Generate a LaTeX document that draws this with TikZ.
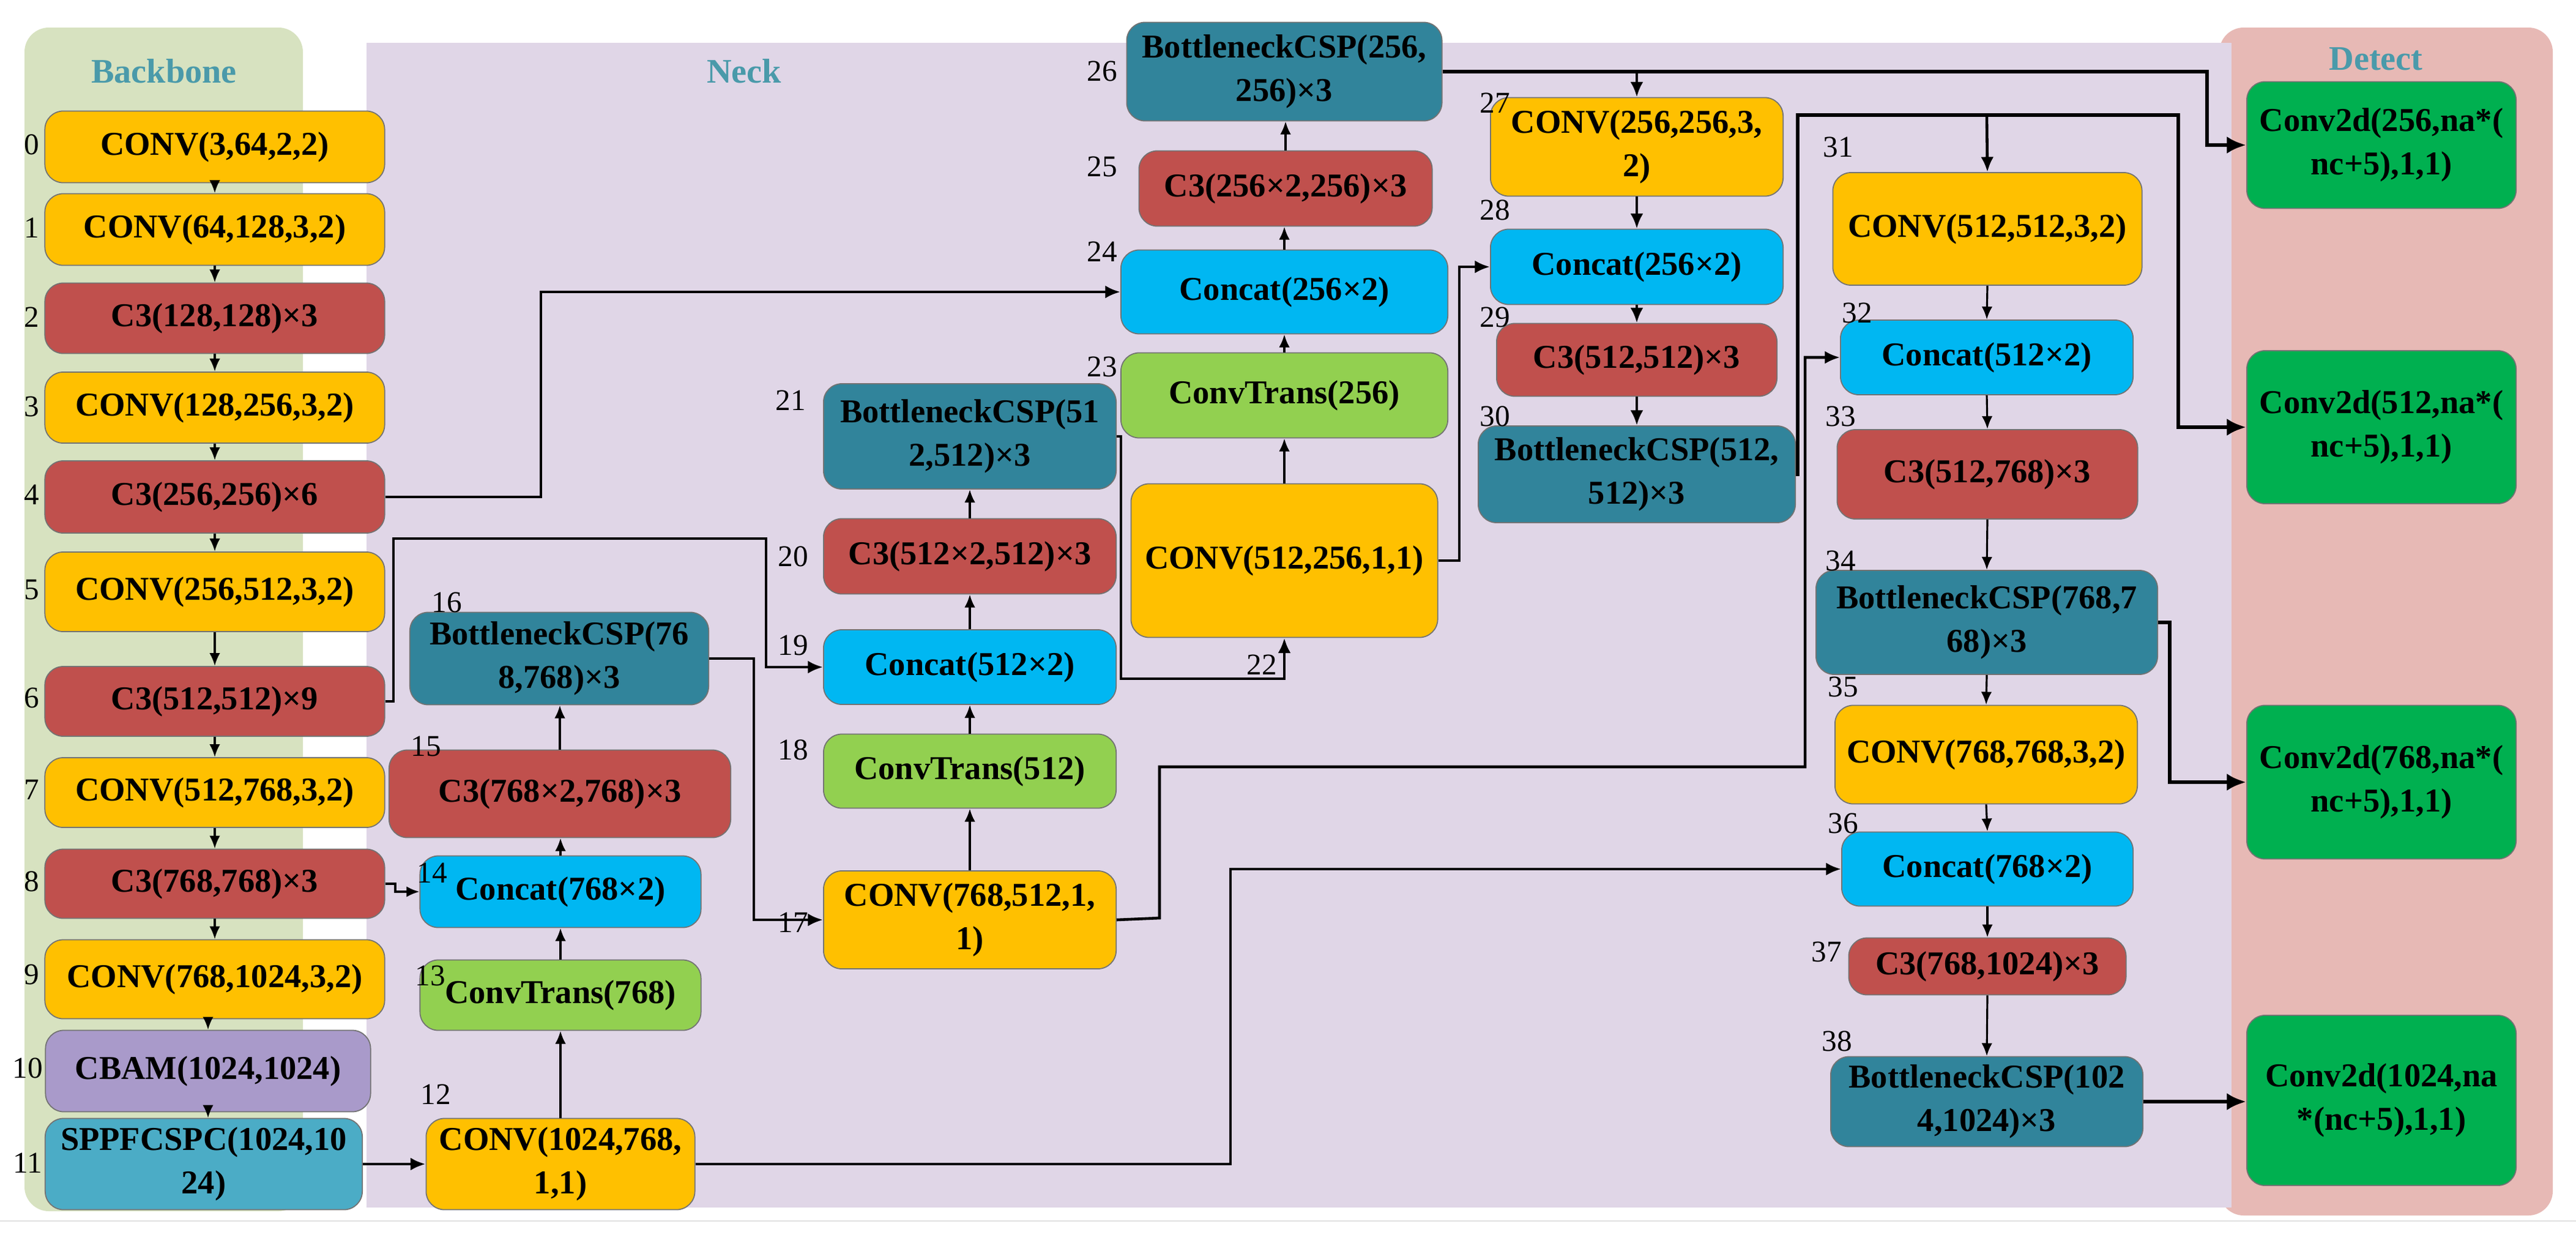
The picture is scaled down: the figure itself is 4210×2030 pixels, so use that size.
\documentclass[tikz,border=0pt]{standalone}
\usepackage{fontspec}
\setmainfont{Liberation Serif}
\usetikzlibrary{arrows.meta}
\definecolor{cyel}{HTML}{FFC000}
\definecolor{cred}{HTML}{C0504D}
\definecolor{ccya}{HTML}{00B7F2}
\definecolor{cgrn}{HTML}{92D050}
\definecolor{ctea}{HTML}{31849B}
\definecolor{cpur}{HTML}{A99ACA}
\definecolor{cspp}{HTML}{4BACC6}
\definecolor{cdet}{HTML}{00B050}
\definecolor{bgbb}{HTML}{D7E2C0}
\definecolor{bgnk}{HTML}{E0D6E7}
\definecolor{bgdt}{HTML}{E7B9B5}
\definecolor{ttl}{HTML}{4A9AAA}
\begin{document}
\begin{tikzpicture}[x=0.01cm,y=-0.01cm,
 box/.style={rounded corners=0.3cm,draw=black!55,line width=0.5pt,align=center,inner sep=0pt,
   font=\fontsize{15.5}{20}\selectfont\bfseries},
 yel/.style={box,fill=cyel},red/.style={box,fill=cred},cya/.style={box,fill=ccya},
 grn/.style={box,fill=cgrn},tea/.style={box,fill=ctea},pur/.style={box,fill=cpur},
 spp/.style={box,fill=cspp},det/.style={box,fill=cdet},
 idx/.style={font=\fontsize{14}{14}\selectfont,inner sep=0pt},
 ttlf/.style={text=ttl,font=\fontsize{16}{16}\selectfont\bfseries},
 ch/.style={line width=0.9pt,-{Latex[length=6pt,width=5pt]}},
 cn/.style={line width=1.3pt,-{Latex[length=7pt,width=6pt]}},
 ct/.style={line width=1.8pt,-{Latex[length=9pt,width=8pt]}},
 cnl/.style={line width=1.3pt}]
\useasboundingbox (0,0) rectangle (4210,2030);
\fill[white] (0,0) rectangle (4210,2030);
% backgrounds
\fill[bgdt,rounded corners=0.4cm] (3627,45) rectangle (4172,1986);
\fill[bgnk] (599,70) rectangle (3647,1973);
\fill[bgbb,rounded corners=0.4cm] (40,45) rectangle (495,1979);
\draw[black!12,line width=0.8pt] (0,1995) -- (4210,1995);
\node[ttlf] (tb) at (268,116) {Backbone};
\node[ttlf] (tn) at (1216,116) {Neck};
\node[ttlf] (td) at (3883,96) {Detect};
% backbone
\node[yel,minimum width=5.55cm,minimum height=1.17cm] (n0) at (351,240) {CONV(3,64,2,2)};
\node[yel,minimum width=5.55cm,minimum height=1.17cm] (n1) at (351,375) {CONV(64,128,3,2)};
\node[red,minimum width=5.55cm,minimum height=1.15cm] (n2) at (351,520) {C3(128,128)×3};
\node[yel,minimum width=5.55cm,minimum height=1.16cm] (n3) at (351,666) {CONV(128,256,3,2)};
\node[red,minimum width=5.55cm,minimum height=1.18cm] (n4) at (351,812) {C3(256,256)×6};
\node[yel,minimum width=5.55cm,minimum height=1.30cm] (n5) at (351,967) {CONV(256,512,3,2)};
\node[red,minimum width=5.55cm,minimum height=1.14cm] (n6) at (351,1146) {C3(512,512)×9};
\node[yel,minimum width=5.55cm,minimum height=1.14cm] (n7) at (351,1295) {CONV(512,768,3,2)};
\node[red,minimum width=5.55cm,minimum height=1.13cm] (n8) at (351,1444) {C3(768,768)×3};
\node[yel,minimum width=5.55cm,minimum height=1.29cm] (n9) at (351,1600) {CONV(768,1024,3,2)};
\node[pur,minimum width=5.31cm,minimum height=1.33cm] (n10) at (340,1750) {CBAM(1024,1024)};
\node[spp,minimum width=5.18cm,minimum height=1.49cm] (n11) at (333,1902) {SPPFCSPC(1024,10\\24)};
% column A
\node[tea,minimum width=4.88cm,minimum height=1.51cm] (n16) at (914,1076) {BottleneckCSP(76\\8,768)×3};
\node[red,minimum width=5.58cm,minimum height=1.43cm] (n15) at (915,1297) {C3(768×2,768)×3};
\node[cya,minimum width=4.59cm,minimum height=1.17cm] (n14) at (916,1457) {Concat(768×2)};
\node[grn,minimum width=4.59cm,minimum height=1.15cm] (n13) at (916,1626) {ConvTrans(768)};
\node[yel,minimum width=4.39cm,minimum height=1.49cm] (n12) at (916,1902) {CONV(1024,768,\\1,1)};
% column B
\node[tea,minimum width=4.78cm,minimum height=1.72cm] (n21) at (1585,713) {BottleneckCSP(51\\2,512)×3};
\node[red,minimum width=4.78cm,minimum height=1.23cm] (n20) at (1585,909) {C3(512×2,512)×3};
\node[cya,minimum width=4.78cm,minimum height=1.22cm] (n19) at (1585,1090) {Concat(512×2)};
\node[grn,minimum width=4.78cm,minimum height=1.21cm] (n18) at (1585,1260) {ConvTrans(512)};
\node[yel,minimum width=4.78cm,minimum height=1.60cm] (n17) at (1585,1503) {CONV(768,512,1,\\1)};
% column C
\node[tea,minimum width=5.15cm,minimum height=1.61cm] (n26) at (2099,117) {BottleneckCSP(256,\\256)×3};
\node[red,minimum width=4.79cm,minimum height=1.23cm] (n25) at (2101,308) {C3(256×2,256)×3};
\node[cya,minimum width=5.34cm,minimum height=1.37cm] (n24) at (2099,477) {Concat(256×2)};
\node[grn,minimum width=5.34cm,minimum height=1.39cm] (n23) at (2099,646) {ConvTrans(256)};
\node[yel,minimum width=5.01cm,minimum height=2.51cm] (n22) at (2099,916) {CONV(512,256,1,1)};
% column D
\node[yel,minimum width=4.78cm,minimum height=1.61cm] (n27) at (2675,240) {CONV(256,256,3,\\2)};
\node[cya,minimum width=4.78cm,minimum height=1.23cm] (n28) at (2675,436) {Concat(256×2)};
\node[red,minimum width=4.58cm,minimum height=1.19cm] (n29) at (2675,588) {C3(512,512)×3};
\node[tea,minimum width=5.18cm,minimum height=1.58cm] (n30) at (2675,775) {BottleneckCSP(512,\\512)×3};
% column E
\node[yel,minimum width=5.05cm,minimum height=1.84cm] (n31) at (3248,374) {CONV(512,512,3,2)};
\node[cya,minimum width=4.78cm,minimum height=1.22cm] (n32) at (3247,584) {Concat(512×2)};
\node[red,minimum width=4.91cm,minimum height=1.46cm] (n33) at (3248,775) {C3(512,768)×3};
\node[tea,minimum width=5.58cm,minimum height=1.70cm] (n34) at (3247,1017) {BottleneckCSP(768,7\\68)×3};
\node[yel,minimum width=4.94cm,minimum height=1.61cm] (n35) at (3246,1233) {CONV(768,768,3,2)};
\node[cya,minimum width=4.76cm,minimum height=1.21cm] (n36) at (3248,1420) {Concat(768×2)};
\node[red,minimum width=4.53cm,minimum height=0.93cm] (n37) at (3248,1579) {C3(768,1024)×3};
\node[tea,minimum width=5.10cm,minimum height=1.47cm] (n38) at (3247,1800) {BottleneckCSP(102\\4,1024)×3};
% detect
\node[det,minimum width=4.40cm,minimum height=2.07cm] (d0) at (3892,237) {Conv2d(256,na*(\\nc+5),1,1)};
\node[det,minimum width=4.40cm,minimum height=2.50cm] (d1) at (3892,698) {Conv2d(512,na*(\\nc+5),1,1)};
\node[det,minimum width=4.40cm,minimum height=2.51cm] (d2) at (3892,1278) {Conv2d(768,na*(\\nc+5),1,1)};
\node[det,minimum width=4.40cm,minimum height=2.78cm] (d3) at (3892,1798) {Conv2d(1024,na\\*(nc+5),1,1)};
% index labels
\foreach \i/\yy in {0/236,1/372,2/518,3/664,4/808,5/964,6/1140,7/1290,8/1440,9/1592}
  \node[idx] (l\i) at (52,\yy) {\i};
\node[idx] (l10) at (45,1745) {10};
\node[idx] (l11) at (45,1900) {11};
\foreach \i/\xx/\yy in {16/730/984,15/696/1219,14/706/1426,13/703/1594,12/712/1788,
 21/1292/654,20/1296/909,19/1296/1054,18/1296/1225,17/1296/1507,
 26/1801/116,25/1801/272,24/1801/411,23/1801/599,22/2062/1086,
 27/2443/168,28/2443/343,29/2443/518,30/2443/680,
 31/3004/240,32/3035/511,33/3008/680,34/3008/916,35/3012/1122,36/3012/1345,37/2985/1555,38/3002/1701}
  \node[idx] (l\i) at (\xx,\yy) {\i};
% chains
\foreach \a/\b in {0/1,1/2,2/3,3/4,4/5,5/6,6/7,7/8,8/9}
  \draw[ch] (n\a.south) -- (n\b.north);
\draw[ch] (n10.north |- n9.south) -- (n10.north);
\draw[ch] (n10.south) -- (n10.south |- n11.north);
\foreach \a/\b in {12/13,13/14,14/15,15/16,17/18,18/19,19/20,20/21,22/23,23/24,24/25,25/26}
  \draw[ch] (n\a.north) -- (n\a.north |- n\b.south);
\foreach \a/\b in {27/28,28/29,29/30}
  \draw[cn] (n\a.south) -- (n\b.north);
\foreach \a/\b in {31/32,32/33,33/34,34/35,35/36,36/37,37/38}
  \draw[ch] (n\a.south) -- (n\b.north);
% cross connectors
\draw[cn] (n4.east) -- (884,812) |- (n24.west);
\draw[cn] (n6.east) -- (643,1146) |- (1252,880) |- (n19.west);
\draw[ch] (n8.east) -- (646,1444) |- (n14.west);
\draw[cn] (n11.east) -- (n11.east -| n12.west);
\draw[cn] (n16.east) -- (1232,1076) |- (n17.west);
\draw[cn] (n17.east) -- (1895,1500) |- (2950,1253) |- (n32.west);
\draw[cn] (n21.east) -- (1832,713) |- (2099,1109) -- (n22.south);
\draw[cn] (n22.east) -- (2385,916) |- (n28.west);
\coordinate (b26) at (2675,117);
\draw[ct] (n26.east) -- (3607,117) |- (d0.west);
\draw[cn] (b26) -- (n27.north);
\coordinate (b30) at (3247,188);
\draw[ct] (n30.east) -- (2938,775) |- (3560,188) |- (d1.west);
\draw[cn] (b30) -- (n31.north);
\draw[ct] (n34.east) -- (3546,1017) |- (d2.west);
\draw[cn] (n12.east) -- (2011,1902) |- (n36.west);
\draw[ct] (n38.east) -- (n38.east -| d3.west);
\end{tikzpicture}
\end{document}
